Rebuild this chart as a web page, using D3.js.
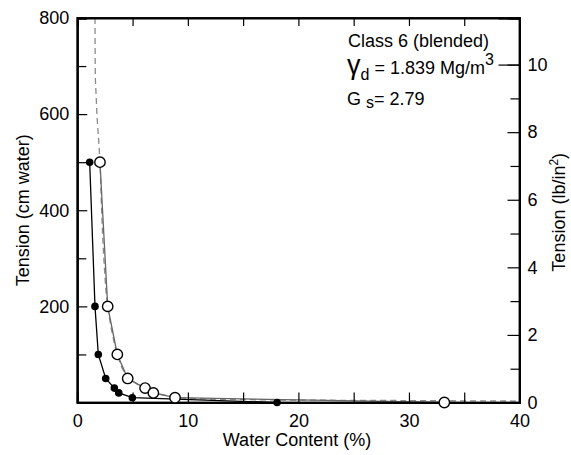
<!DOCTYPE html>
<html>
<head>
<meta charset="utf-8">
<script src="https://cdn.jsdelivr.net/npm/d3@7"></script>
<style>
  body { margin: 0; background: #fff; }
  text { font-family: "Liberation Sans", Arial, sans-serif; fill: #000; }
</style>
</head>
<body>
<svg id="chart"></svg>
<script>
// data
var filledWater   = [1.12, 1.6, 1.9, 2.57, 3.35, 3.75, 4.98, 18.07];
var filledTension = [500, 200, 100, 50, 30, 20, 10, 0];
var openWater     = [2.05, 2.75, 3.62, 4.56, 6.13, 6.88, 8.84, 33.2];
var openTension   = [500, 200, 100, 50, 30, 20, 10, 0];
// fitted curve (dashed), traced
var fitWater   = [1.6, 1.61, 1.63, 1.7, 1.8, 1.95, 2.05, 2.2, 2.4, 2.75, 3.2, 3.62, 4.56, 6.1, 8.0, 10, 15, 20, 30, 40];
var fitTension = [800, 740, 680, 640, 590, 540, 500, 400, 300, 200, 140, 100, 55, 30, 15, 9, 6, 5, 4, 3];

var xTicks = [0, 10, 20, 30, 40];
var xMinor = [5, 15, 25, 35];
var yTicks = [200, 400, 600, 800];
var yMinor = [100, 300, 500, 700];
var y2Ticks = [0, 2, 4, 6, 8, 10];
var y2Minor = [1, 3, 5, 7, 9];

var W = 571, H = 455;
var pLeft = 77.3, pRight = 519.5, pTop = 18, pBottom = 402.5;
var cmPerPsi = 70.307;

var svg = d3.select("#chart").attr("width", W).attr("height", H);

var x = d3.scaleLinear().domain([0, 40]).range([pLeft, pRight]);
var y = d3.scaleLinear().domain([0, 800]).range([pBottom, pTop]);
var y2 = d3.scaleLinear().domain([0, 800 / cmPerPsi]).range([pBottom, pTop]);

function pts(xs, ys) {
  return xs.map(function(v, i) { return [v, ys[i]]; });
}
var line = d3.line()
  .x(function(d) { return x(d[0]); })
  .y(function(d) { return y(d[1]); });

svg.append("clipPath").attr("id", "plot")
  .append("rect").attr("x", pLeft).attr("y", pTop)
  .attr("width", pRight - pLeft).attr("height", pBottom - pTop);

var g = svg.append("g").attr("clip-path", "url(#plot)");

// dashed fit
g.append("path")
  .datum(pts(fitWater, fitTension))
  .attr("d", line.curve(d3.curveMonotoneY))
  .attr("fill", "none")
  .attr("stroke", "#8a8a8a")
  .attr("stroke-width", 1.3)
  .attr("stroke-dasharray", "6,4");

line.curve(d3.curveLinear);

g.append("path")
  .datum(pts(openWater, openTension))
  .attr("d", line)
  .attr("fill", "none")
  .attr("stroke", "#666")
  .attr("stroke-width", 1.3);

g.append("path")
  .datum(pts(filledWater, filledTension))
  .attr("d", line)
  .attr("fill", "none")
  .attr("stroke", "#000")
  .attr("stroke-width", 1.3);

// axes
var axes = svg.append("g");
axes.append("g").attr("transform", "translate(0," + pBottom + ")")
  .call(d3.axisBottom(x).tickValues(xTicks).tickSize(-10).tickPadding(12));
axes.append("g").attr("transform", "translate(0," + pBottom + ")")
  .call(d3.axisBottom(x).tickValues(xMinor).tickSize(-10).tickFormat(""));
axes.append("g").attr("transform", "translate(0," + pTop + ")")
  .call(d3.axisTop(x).tickValues(xTicks.concat(xMinor)).tickSize(-8).tickFormat(""));

axes.append("g").attr("transform", "translate(" + pLeft + ",0)")
  .call(d3.axisLeft(y).tickValues(yTicks).tickSize(-10).tickPadding(8));
axes.append("g").attr("transform", "translate(" + pLeft + ",0)")
  .call(d3.axisLeft(y).tickValues(yMinor).tickSize(-9).tickFormat(""));

axes.append("g").attr("transform", "translate(" + pRight + ",0)")
  .call(d3.axisRight(y2).tickValues(y2Ticks).tickSize(-12).tickPadding(8));
axes.append("g").attr("transform", "translate(" + pRight + ",0)")
  .call(d3.axisRight(y2).tickValues(y2Minor).tickSize(-9).tickFormat(""));
// the 10 tick runs longer in the original
axes.append("g").attr("transform", "translate(" + pRight + ",0)")
  .call(d3.axisRight(y2).tickValues([10]).tickSize(-21).tickFormat(""));

axes.selectAll(".domain").attr("stroke", "#000").attr("stroke-width", 1.8);
axes.selectAll(".tick line").attr("stroke", "#000").attr("stroke-width", 1.2);
axes.selectAll(".tick text").style("font-size", "18px").attr("fill", "#000");

// frame
svg.append("rect").attr("x", pLeft).attr("y", pTop)
  .attr("width", pRight - pLeft).attr("height", pBottom - pTop)
  .attr("fill", "none").attr("stroke", "#000").attr("stroke-width", 1.8);

// markers
svg.selectAll(".open").data(pts(openWater, openTension)).enter()
  .append("circle").attr("class", "open")
  .attr("cx", function(d) { return x(d[0]); })
  .attr("cy", function(d) { return y(d[1]); })
  .attr("r", 5.2)
  .attr("fill", "#fff").attr("stroke", "#000").attr("stroke-width", 1.4);

svg.selectAll(".filled").data(pts(filledWater, filledTension)).enter()
  .append("circle").attr("class", "filled")
  .attr("cx", function(d) { return x(d[0]); })
  .attr("cy", function(d) { return y(d[1]); })
  .attr("r", 3.8)
  .attr("fill", "#000");

// labels
svg.append("text").attr("x", 297).attr("y", 446)
  .attr("text-anchor", "middle").style("font-size", "18px")
  .text("Water Content (%)");

svg.append("text")
  .attr("transform", "translate(29," + ((pTop + pBottom) / 2) + ") rotate(-90)")
  .attr("text-anchor", "middle").style("font-size", "18px")
  .text("Tension (cm water)");

var r = svg.append("text")
  .attr("transform", "translate(565," + ((pTop + pBottom) / 2 + 2) + ") rotate(-90)")
  .attr("text-anchor", "middle").style("font-size", "18px");
r.append("tspan").text("Tension (lb/in");
r.append("tspan").attr("dy", -7).style("font-size", "12px").text("2");
r.append("tspan").attr("dy", 7).text(")");

// annotation
svg.append("text").attr("x", 348).attr("y", 47).style("font-size", "18px")
  .text("Class 6 (blended)");

var gam = svg.append("text").attr("x", 347).attr("y", 74).style("font-size", "18px");
gam.append("tspan").style("font-size", "27px").text("\u03b3");
gam.append("tspan").attr("dy", 6).style("font-size", "16px").text("d");
gam.append("tspan").attr("dy", -6).text(" = 1.839 Mg/m");
gam.append("tspan").attr("dy", -9).style("font-size", "16px").text("3");

var gs = svg.append("text").attr("x", 347).attr("y", 105).style("font-size", "18px");
gs.append("tspan").text("G ");
gs.append("tspan").attr("dy", 3).style("font-size", "16px").text("s");
gs.append("tspan").attr("dy", -3).text("= 2.79");
</script>
</body>
</html>
